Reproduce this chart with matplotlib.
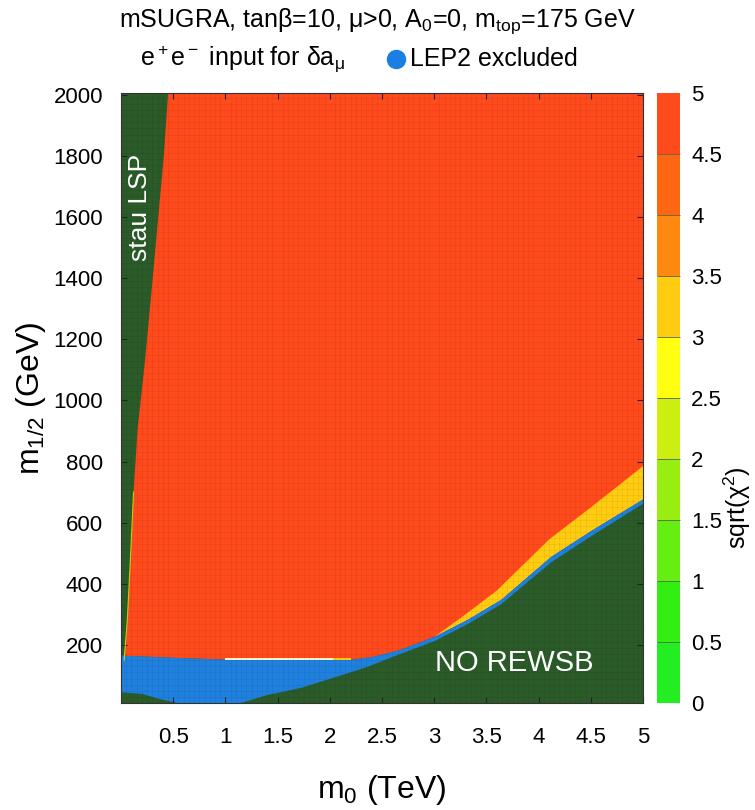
import numpy as np
import matplotlib.pyplot as plt
from matplotlib.colors import ListedColormap, BoundaryNorm
from matplotlib.cm import ScalarMappable
from matplotlib.lines import Line2D

plt.rcParams['font.family'] = ['Liberation Sans', 'DejaVu Sans']
plt.rcParams['mathtext.fontset'] = 'custom'
plt.rcParams['mathtext.rm'] = 'Liberation Sans'
plt.rcParams['mathtext.it'] = 'Liberation Sans:italic'
plt.rcParams['mathtext.bf'] = 'Liberation Sans:bold'
plt.rcParams['mathtext.default'] = 'regular'

# escala de sqrt(chi^2)
niveles = [0, 0.5, 1, 1.5, 2, 2.5, 3, 3.5, 4, 4.5, 5]
colores = ['#22ee22', '#33ee11', '#66ee11', '#99ee11', '#ccee11',
           '#ffff11', '#ffcc11', '#ff8811', '#ff6611', '#ff4a1c']

# valores de sqrt(chi^2) en cada zona
chi_permitido = 4.75
chi_banda = 3.2
chi_borde_stau = 2.2
chi_tira = 3.2

# frontera stau LSP (m0 en TeV, m1/2 en GeV)
stau_m0 = [0.03, 0.06, 0.09, 0.12, 0.16, 0.23, 0.32, 0.41, 0.45, 0.46]
stau_m12 = [150, 280, 480, 700, 910, 1130, 1460, 1800, 2000, 2010]

# borde superior de la zona excluida por LEP2
lep_sup_m0 = [0.0, 0.57, 1.0, 2.2, 2.42, 2.68, 3.0, 3.32, 3.64, 4.12, 4.5, 5.0]
lep_sup_m12 = [165, 157, 152, 151, 161, 184, 226, 282, 347, 488, 572, 676]

# borde inferior de LEP2 (sin REWSB)
lep_inf_m0 = [0.0, 0.2, 0.35, 0.6, 1.1, 1.4, 1.72, 2.03, 2.36, 2.58, 3.0, 3.32, 3.64, 4.12, 4.5, 5.0]
lep_inf_m12 = [45, 40, 25, 5, 5, 36, 59, 92, 128, 158, 212, 268, 333, 470, 555, 662]

# banda amarilla junto a la frontera REWSB
banda_m0 = [3.0, 3.3, 3.6, 4.1, 4.5, 5.0]
banda_m12 = [226, 300, 378, 545, 650, 785]

# tira clara sobre la zona LEP2
tira_m0 = [1.0, 2.03, 2.2]
tira_m12 = [150, 157]

cmap = ListedColormap(colores)
norm = BoundaryNorm(niveles, cmap.N)


def main():
    fig = plt.figure(figsize=(7.55, 8.10), dpi=100)
    ax = fig.add_axes([121/755, 107/810, 522/755, 610/810])
    cax = fig.add_axes([657/755, 107/810, 23/755, 610/810])

    ax.set_facecolor('#2b5b29')

    # zona permitida
    x = stau_m0 + [5.05] + lep_sup_m0[::-1]
    y = stau_m12 + [2010] + lep_sup_m12[::-1]
    ax.fill(x, y, color=cmap(norm(chi_permitido)), lw=0)

    # banda amarilla
    sub = [i for i, m in enumerate(lep_sup_m0) if m >= banda_m0[0]]
    x = banda_m0 + [lep_sup_m0[i] for i in sub[::-1]]
    y = banda_m12 + [lep_sup_m12[i] for i in sub[::-1]]
    ax.fill(x, y, color=cmap(norm(chi_banda)), lw=0)

    # borde de stau
    ax.plot(stau_m0[:4], stau_m12[:4], color=cmap(norm(chi_borde_stau)), lw=0.8, alpha=0.8)

    # LEP2 excluido
    x = lep_sup_m0 + lep_inf_m0[::-1]
    y = lep_sup_m12 + lep_inf_m12[::-1]
    ax.fill(x, y, color='#1f80dd', lw=0)

    # tira clara
    ax.fill_between(tira_m0[:2], tira_m12[0], tira_m12[1], color='#fff3c8', lw=0)
    ax.fill_between(tira_m0[1:], tira_m12[0], tira_m12[1], color=cmap(norm(chi_tira)), lw=0)

    # textura de la malla de puntos
    ax.set_xticks(np.arange(0, 5.01, 0.05), minor=True)
    ax.set_yticks(np.arange(10, 2006, 20), minor=True)
    ax.grid(which='minor', color='black', alpha=0.07, lw=0.5)
    ax.tick_params(which='minor', length=0)

    ax.text(0.18, 1630, 'stau LSP', color='white', fontsize=19, rotation=90,
            ha='center', va='center')
    ax.text(3.77, 141, 'NO REWSB', color='white', fontsize=21,
            ha='center', va='center')

    ax.set_xlim(0, 5)
    ax.set_ylim(10, 2006)
    ax.set_xticks([0.5, 1, 1.5, 2, 2.5, 3, 3.5, 4, 4.5, 5])
    ax.set_xticklabels(['0.5', '1', '1.5', '2', '2.5', '3', '3.5', '4', '4.5', '5'])
    ax.set_yticks(range(200, 2001, 200))
    ax.tick_params(direction='in', length=4, top=True, right=True,
                   labelsize=16, color='#222222')
    ax.tick_params(axis='x', pad=17)
    ax.tick_params(axis='y', pad=13)
    for s in ax.spines.values():
        s.set_color('#333333')
        s.set_linewidth(0.8)

    ax.set_xlabel('m$_0$ (TeV)', fontsize=23, labelpad=18)
    ax.set_ylabel('m$_{1/2}$ (GeV)', fontsize=23, labelpad=4)

    # barra de color
    sm = ScalarMappable(norm=norm, cmap=cmap)
    cb = fig.colorbar(sm, cax=cax, ticks=niveles, drawedges=True)
    cb.outline.set_visible(False)
    cb.dividers.set_color('#556655')
    cb.dividers.set_linewidth(0.6)
    cb.ax.set_yticklabels([f'{v:g}' for v in niveles])
    cb.ax.tick_params(length=0, labelsize=16, pad=8)
    cb.set_label('sqrt(χ$^2$)', fontsize=18)
    cb.ax.yaxis.set_label_coords(2.8, 0.32)

    # títulos
    fig.text(0.5, 1 - 21/810, 'mSUGRA, tanβ=10, μ>0, A$_0$=0, m$_{top}$=175 GeV',
             ha='center', va='center', fontsize=18)
    fig.text(345/755, 1 - 59/810, 'e$^+$e$^-$ input for δa$_μ$',
             ha='right', va='center', fontsize=18)
    fig.add_artist(Line2D([396/755], [1 - 59/810], marker='o', markersize=13,
                          color='#1a7fe0', transform=fig.transFigure))
    fig.text(410/755, 1 - 59/810, 'LEP2 excluded', ha='left', va='center', fontsize=18)

    fig.savefig('out.png', dpi=100)


if __name__ == "__main__":
    main()
